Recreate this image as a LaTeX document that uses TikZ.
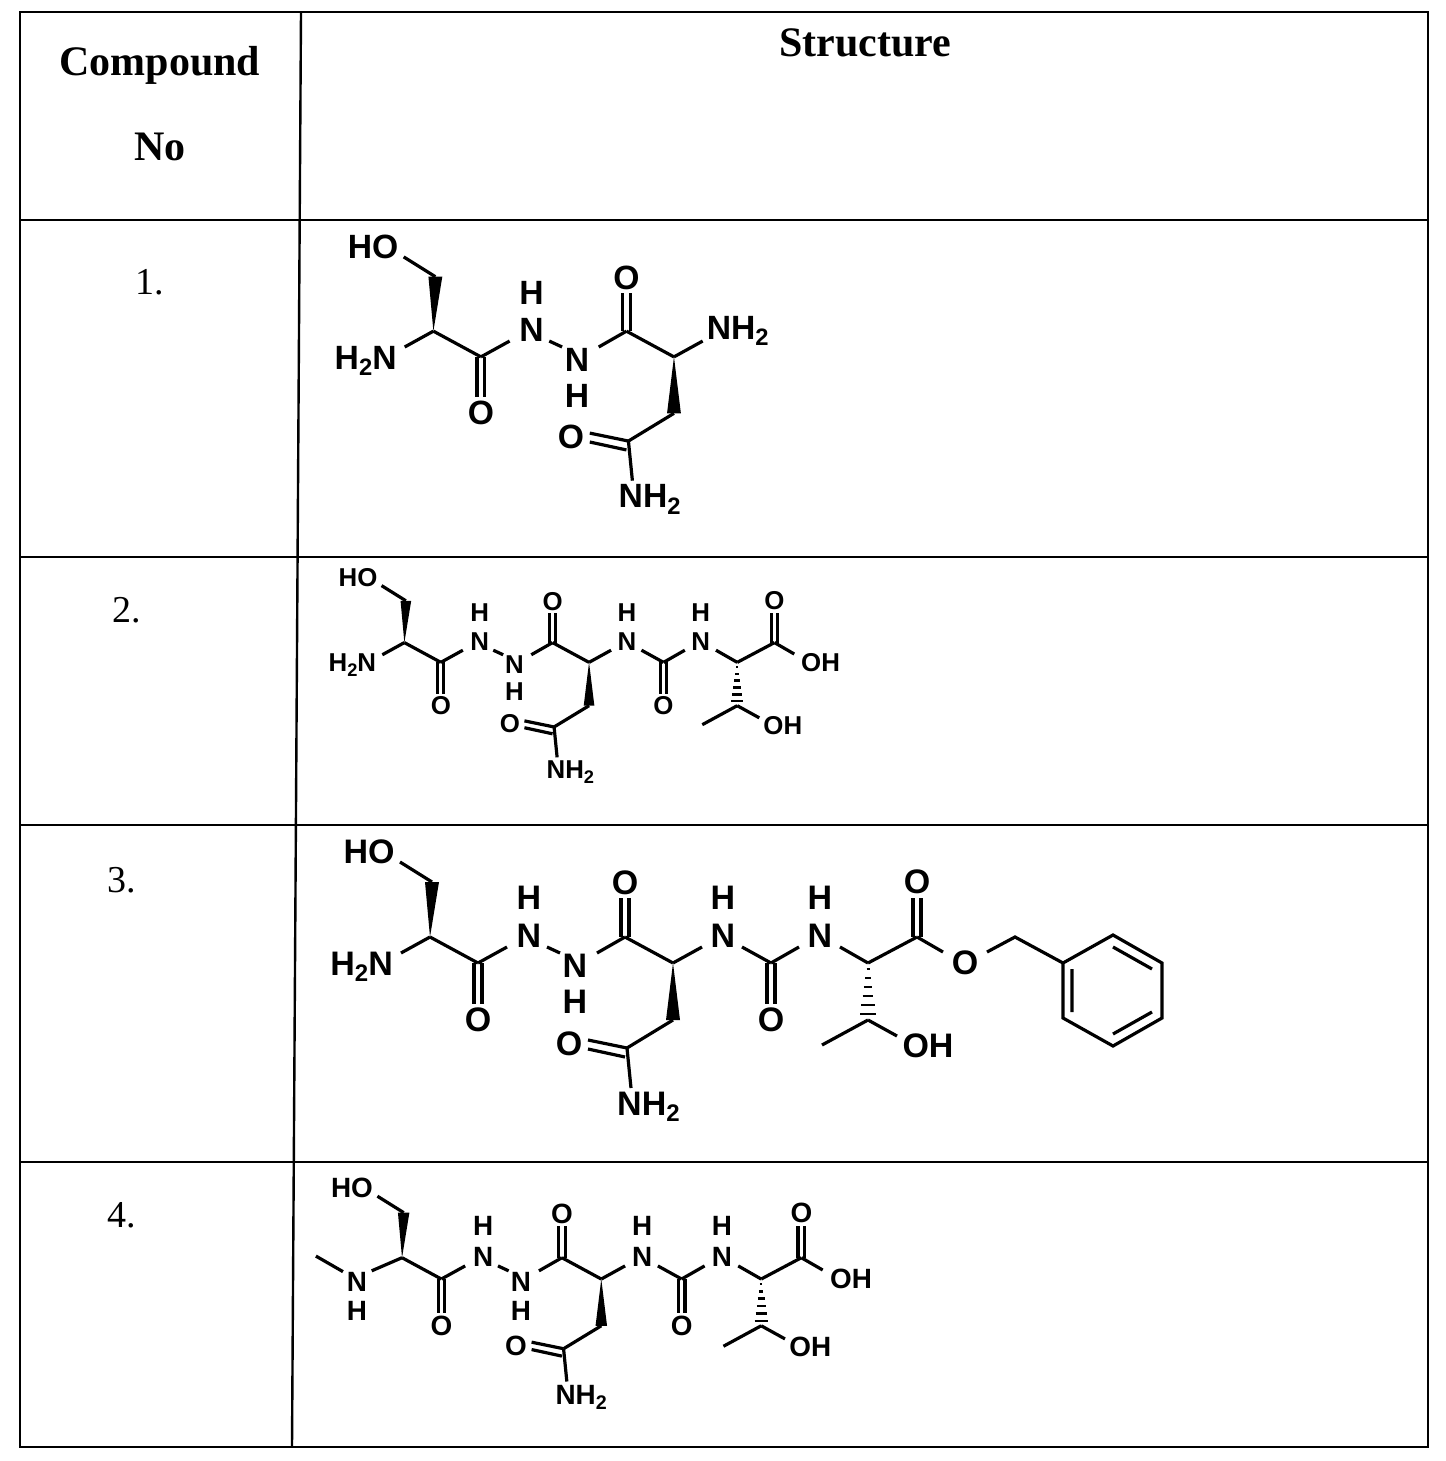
\documentclass[tikz,border=0pt]{standalone}
\usepackage{fontspec}
\setmainfont{Liberation Serif}
\newfontfamily\chemf{Liberation Sans}
\begin{document}
\begin{tikzpicture}[x=1pt,y=-1pt,
  grid/.style={line width=2.4pt},
  bond/.style={line width=3.2pt},
  atm/.style={font=\chemf\bfseries\fontsize{34}{34}\selectfont,inner sep=0pt,transform shape},
  hdr/.style={font=\bfseries\fontsize{42}{42}\selectfont},
  num/.style={font=\fontsize{38}{38}\selectfont}]
\newcommand{\sub}{\raisebox{-0.35ex}{\fontsize{24}{24}\selectfont 2}}
\useasboundingbox (0,0) rectangle (1445,1461);
% table
\draw[grid] (20,12) rectangle (1428,1447);
\draw[grid] (301,12) -- (292,1447);
\foreach \yy in {220,557,825,1162} \draw[grid] (20,\yy) -- (1428,\yy);
\node[hdr] (h1) at (160,65) {Compound};
\node[hdr] (h2) at (160,147) {No};
\node[hdr] (h3) at (865,43) {Structure};
\node[num] (n1) at (150,282) {1.};
\node[num] (n2) at (127,610) {2.};
\node[num] (n3) at (122,880) {3.};
\node[num] (n4) at (122,1215) {4.};
% ---------- molecule parts (compound-3 coordinates)
\newcommand{\partA}{%
 \node[atm] at (369,852) {HO};
 \draw[bond] (400,862) -- (432,882);
 \fill (430,937) -- (425,882) -- (439,882) -- cycle;
 \draw[bond] (430,937) -- (478,963);
 \draw[bond] (474,963) -- (474,1004) (482,963) -- (482,1004);
 \node[atm] at (478,1020) {O};
 \draw[bond] (478,963) -- (507,947);
 \node[atm] at (529,936) {N}; \node[atm] at (529,898) {H};
 \draw[bond] (547,947) -- (560,953);
 \node[atm] at (575,966) {N}; \node[atm] at (575,1002) {H};
 \draw[bond] (597,953) -- (625,937);
 \draw[bond] (621,937) -- (621,898) (629,937) -- (629,898);
 \node[atm] at (625,883) {O};
 \draw[bond] (625,937) -- (673,963);
 \fill (673,963) -- (666,1020) -- (680,1020) -- cycle;
 \draw[bond] (673,1020) -- (627,1048);
 \draw[bond] (627,1048) -- (588,1040) (625,1057) -- (588,1049);
 \node[atm] at (569,1044) {O};
 \draw[bond] (627,1048) -- (631,1088);
 \node[atm,anchor=west] at (617,1107) {NH\sub};
 \draw[bond] (673,963) -- (702,947);
}
\newcommand{\amineH}{%
 \node[atm,anchor=east] at (393,967) {H\sub N};
 \draw[bond] (401,953) -- (430,937);}
\newcommand{\partB}{%
 \node[atm] at (723,936) {N}; \node[atm] at (723,898) {H};
 \draw[bond] (742,947) -- (771,963);
 \draw[bond] (767,963) -- (767,1004) (775,963) -- (775,1004);
 \node[atm] at (771,1020) {O};
 \draw[bond] (771,963) -- (799,947);
 \node[atm] at (820,936) {N}; \node[atm] at (820,898) {H};
 \draw[bond] (840,947) -- (868,963);
 \foreach \k in {0,...,5}{\draw[line width=2.5pt] ({868-1.5-\k*1.3},{969+\k*9}) -- ({868+1.5+\k*1.3},{969+\k*9});}
 \draw[bond] (868,1020) -- (822,1045);
 \draw[bond] (868,1020) -- (897,1036);
 \node[atm] at (928,1046) {OH};
 \draw[bond] (868,963) -- (917,937);
 \draw[bond] (913,937) -- (913,898) (921,937) -- (921,898);
 \node[atm] at (917,882) {O};
 \draw[bond] (917,937) -- (943,952);
}
% ---------- compound 1
\begin{scope}[shift={(373-0.99*369,247-0.99*852)},scale=0.99]
 \partA \amineH
 \node[atm,anchor=west] at (706,937) {NH\sub};
\end{scope}
% ---------- compound 2
\begin{scope}[shift={(358-0.76*369,578-0.76*852)},scale=0.76]
 \partA \amineH \partB
 \node[atm,anchor=west] at (952,963) {OH};
\end{scope}
% ---------- compound 3
\begin{scope}
 \partA \amineH \partB
 \node[atm] (eo) at (965,963) {O};
 \draw[bond] (987,952) -- (1015,937) -- (1063,963);
 \draw[bond] (1063,963) -- (1113,935) -- (1162,963) -- (1162,1018) -- (1113,1046) -- (1063,1018) -- cycle;
 \draw[bond] (1113,947) -- (1152,969) (1072,969) -- (1072,1012) (1152,1012) -- (1113,1034);
\end{scope}
% ---------- compound 4
\begin{scope}[shift={(352-0.82*369,1188-0.82*852)},scale=0.82]
 \partA \partB
 \node[atm] at (375,966) {N}; \node[atm] at (375,1002) {H};
 \draw[bond] (393,953) -- (430,937);
 \draw[bond] (325,935) -- (358,954);
 \node[atm,anchor=west] at (952,963) {OH};
\end{scope}
\end{tikzpicture}
\end{document}
